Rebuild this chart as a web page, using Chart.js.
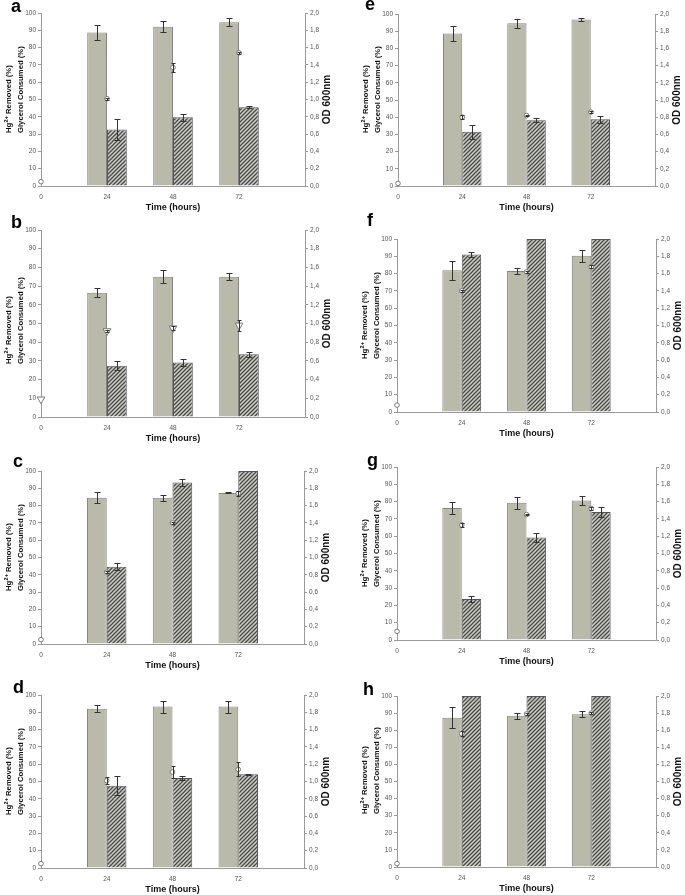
<!DOCTYPE html>
<html>
<head>
<meta charset="utf-8">
<script src="https://cdn.jsdelivr.net/npm/chart.js@4.4.0/dist/chart.umd.min.js"></script>
<style>
  html, body { margin: 0; padding: 0; background: #fff; }
  body { width: 685px; height: 895px; overflow: hidden; position: relative; }
  canvas { position: absolute; }
  .tag { position: absolute; font: bold 18px "Liberation Sans", Arial, sans-serif; line-height: 18px; color: #000; }
</style>
</head>
<body>
<script>
// x categories (last one is the empty end of the axis at 96 h)
const hours = ['0', '24', '48', '72', ''];
const panels = ['a', 'b', 'c', 'd', 'e', 'f', 'g', 'h'];

// Hg2+ removed (%) at 24, 48, 72 h
const hgRemoved = [
  [88.8, 92.0, 94.7],
  [66.5, 75.0, 75.0],
  [84.6, 84.6, 87.3],
  [92.0, 93.3, 93.3],
  [88.6, 94.6, 96.8],
  [82.0, 81.5, 90.3],
  [76.3, 79.4, 80.6],
  [87.3, 88.5, 89.3]
];
const hgError = [
  [4.5, 3.2, 2.3],
  [2.5, 3.5, 2.0],
  [3.2, 1.7, 0.3],
  [2.0, 3.5, 3.5],
  [4.2, 2.7, 0.8],
  [5.5, 1.7, 3.5],
  [3.5, 3.5, 2.8],
  [6.0, 1.8, 1.7]
];

// glycerol consumed (%) at 24, 48, 72 h
const glycerolConsumed = [
  [32.7, 39.8, 45.5],
  [27.4, 29.1, 33.5],
  [44.6, 93.3, 100],
  [47.5, 52.0, 54.2],
  [31.6, 38.2, 38.8],
  [91.0, 100, 100],
  [23.7, 59.2, 74.0],
  [100, 100, 100]
];
const glycerolError = [
  [6.0, 2.0, 0.7],
  [2.3, 2.0, 1.3],
  [2.0, 2.0, 0],
  [5.5, 1.3, 0.4],
  [4.0, 1.2, 2.0],
  [1.3, 0, 0],
  [2.0, 2.5, 3.0],
  [0, 0, 0]
];

// OD 600nm at 0, 24, 48, 72 h
const od600 = [
  [0.05, 1.01, 1.37, 1.54],
  [0.19, 0.92, 0.95, 0.98],
  [0.05, 0.83, 1.40, 1.74],
  [0.05, 1.01, 1.11, 1.14],
  [0.03, 0.80, 0.82, 0.86],
  [0.08, 1.40, 1.62, 1.68],
  [0.10, 1.33, 1.45, 1.52],
  [0.04, 1.56, 1.79, 1.80]
];
const odError = [
  [0, 0.01, 0.05, 0.01],
  [0, 0.01, 0.02, 0.06],
  [0, 0.01, 0.01, 0.03],
  [0, 0.04, 0.07, 0.08],
  [0, 0.02, 0.01, 0.01],
  [0, 0.01, 0.01, 0.02],
  [0, 0.02, 0.01, 0.02],
  [0, 0.03, 0.01, 0.01]
];

const hgTitle = ['Hg', '2+', ' Removed (%)'];
const glycerolTitle = 'Glycerol Consumed (%)';
const rightTitle = 'OD 600nm';
const xTitle = 'Time (hours)';

// plot box of every panel: left axis x, top, bottom, right axis x
const boxes = [
  [41, 13, 186, 305],
  [41, 230, 417, 305],
  [41, 471, 644, 304],
  [41, 695, 868, 304],
  [398, 14, 186, 655],
  [397, 239, 412, 656],
  [397, 467, 640, 656],
  [397, 696, 867, 656]
];
// panel letter positions
const tags = [[11, -3], [11, 213], [13, 452], [13, 678], [365, -5], [367, 211], [367, 451], [363, 680]];

const FONT = '"Liberation Sans", Arial, sans-serif';
Chart.defaults.font.family = FONT;
Chart.defaults.animation = false;

function hatch() {
  const c = document.createElement('canvas');
  c.width = 4; c.height = 4;
  const g = c.getContext('2d');
  g.fillStyle = '#cdcdc4';
  g.fillRect(0, 0, 4, 4);
  g.strokeStyle = '#4a4a4a';
  g.lineWidth = 1.3;
  g.beginPath();
  g.moveTo(0, 4); g.lineTo(4, 0);
  g.moveTo(-1, 1); g.lineTo(1, -1);
  g.moveTo(3, 5); g.lineTo(5, 3);
  g.stroke();
  return g.createPattern(c, 'repeat');
}

const errorBars = {
  id: 'errorBars',
  afterDatasetsDraw(chart) {
    const ctx = chart.ctx;
    chart.data.datasets.forEach((ds, di) => {
      if (!ds.errors) return;
      const meta = chart.getDatasetMeta(di);
      const scale = chart.scales[ds.yAxisID];
      ctx.save();
      ctx.strokeStyle = '#333';
      ctx.lineWidth = 1;
      meta.data.forEach((el, i) => {
        const v = ds.data[i], e = ds.errors[i];
        if (v == null || !e) return;
        const x = Math.round(el.x) + 0.5;
        const y1 = Math.round(scale.getPixelForValue(v + e)) + 0.5;
        const y2 = Math.round(scale.getPixelForValue(v - e)) + 0.5;
        const w = ds.capWidth;
        ctx.beginPath();
        ctx.moveTo(x, y1); ctx.lineTo(x, y2);
        ctx.moveTo(x - w, y1); ctx.lineTo(x + w, y1);
        ctx.moveTo(x - w, y2); ctx.lineTo(x + w, y2);
        ctx.stroke();
      });
      ctx.restore();
    });
  }
};

// axis titles that read bottom-to-top on both sides
const sideTitles = {
  id: 'sideTitles',
  afterDraw(chart) {
    const a = chart.chartArea, ctx = chart.ctx;
    ctx.save();
    ctx.fillStyle = '#111';
    ctx.textBaseline = 'middle';

    // left: two lines, both starting 53px above the x axis
    ctx.save();
    ctx.translate(a.left - 32, a.bottom - 53);
    ctx.rotate(-Math.PI / 2);
    ctx.textAlign = 'left';
    ctx.font = 'bold 7.7px ' + FONT;
    ctx.fillText(hgTitle[0], 0, 0);
    let w = ctx.measureText(hgTitle[0]).width;
    ctx.font = 'bold 5.6px ' + FONT;
    ctx.fillText(hgTitle[1], w + 0.3, -3);
    w += ctx.measureText(hgTitle[1]).width + 0.3;
    ctx.font = 'bold 7.7px ' + FONT;
    ctx.fillText(hgTitle[2], w, 0);
    ctx.fillText(glycerolTitle, 0, 12);
    ctx.restore();

    // right
    ctx.translate(a.right + 22, (a.top + a.bottom) / 2);
    ctx.rotate(-Math.PI / 2);
    ctx.font = 'bold 10px ' + FONT;
    ctx.textAlign = 'center';
    ctx.fillText(rightTitle, 0, 0);
    ctx.restore();
  }
};

const tickFont = { size: 6.5 };
const axisGrey = '#9a9a9a';

panels.forEach((p, k) => {
  const [L, T, B, R] = boxes[k];
  const cv = document.createElement('canvas');
  cv.width = 40 + (R - L) + 40;
  cv.height = 8 + (B - T) + 30;
  cv.style.left = (L - 40) + 'px';
  cv.style.top = (T - 8) + 'px';
  document.body.appendChild(cv);

  const tag = document.createElement('div');
  tag.className = 'tag';
  tag.textContent = p;
  tag.style.left = tags[k][0] + 'px';
  tag.style.top = tags[k][1] + 'px';
  document.body.appendChild(tag);

  new Chart(cv, {
    type: 'bar',
    data: {
      labels: hours,
      datasets: [
        {
          type: 'line',
          label: rightTitle,
          data: [...od600[k], null],
          errors: odError[k],
          capWidth: 2,
          yAxisID: 'y1',
          showLine: false,
          pointStyle: p === 'b' ? 'triangle' : 'circle',
          rotation: p === 'b' ? 180 : 0,
          pointRadius: p === 'b' ? 4.5 : 2.3,
          pointBackgroundColor: '#fff',
          pointBorderColor: '#7a7a7a',
          pointBorderWidth: 1,
          order: 0
        },
        {
          label: 'Hg²⁺ Removed (%)',
          data: [null, ...hgRemoved[k], null],
          errors: [0, ...hgError[k], 0],
          capWidth: 3,
          yAxisID: 'y',
          backgroundColor: '#b9baa9',
          borderColor: '#85857c',
          borderWidth: 1,
          categoryPercentage: 0.6,
          barPercentage: 1,
          order: 1
        },
        {
          label: glycerolTitle,
          data: [null, ...glycerolConsumed[k], null],
          errors: [0, ...glycerolError[k], 0],
          capWidth: 3,
          yAxisID: 'y',
          backgroundColor: hatch(),
          borderColor: '#555',
          borderWidth: 1,
          categoryPercentage: 0.6,
          barPercentage: 1,
          order: 1
        }
      ]
    },
    options: {
      responsive: false,
      devicePixelRatio: 1,
      layout: { padding: { top: 8, left: 0, right: 0, bottom: 0 } },
      plugins: { legend: { display: false }, tooltip: { enabled: false } },
      scales: {
        x: {
          type: 'category',
          offset: false,
          grid: { display: false, drawTicks: false, tickLength: 0 },
          border: { color: axisGrey },
          ticks: { font: tickFont, color: '#555', padding: 7, maxRotation: 0, autoSkip: false },
          title: { display: true, text: xTitle, color: '#111', font: { size: 9, weight: 'bold' }, padding: { top: 0, bottom: 2.6 } },
          afterFit: s => { s.height = 30; }
        },
        y: {
          position: 'left',
          min: 0, max: 100,
          ticks: { stepSize: 10, font: tickFont, color: '#555', padding: 2 },
          grid: { drawOnChartArea: false, drawTicks: true, tickLength: 3, color: axisGrey },
          border: { color: axisGrey },
          afterFit: s => { s.width = 40; }
        },
        y1: {
          position: 'right',
          min: 0, max: 2,
          ticks: { stepSize: 0.2, font: tickFont, color: '#555', padding: 2,
                   callback: v => v.toFixed(1).replace('.', ',') },
          grid: { drawOnChartArea: false, drawTicks: true, tickLength: 3, color: axisGrey },
          border: { color: axisGrey },
          afterFit: s => { s.width = 40; }
        }
      }
    },
    plugins: [errorBars, sideTitles]
  });
});
</script>
</body>
</html>
